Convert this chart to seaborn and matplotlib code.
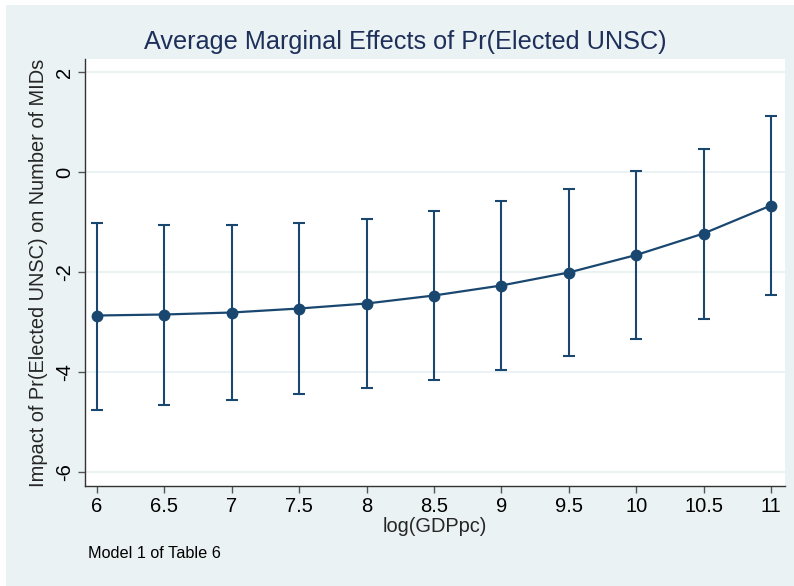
import seaborn as sns
import matplotlib.pyplot as plt
import matplotlib.patches as mpatches
import pandas as pd

# values
gdp = [6, 6.5, 7, 7.5, 8, 8.5, 9, 9.5, 10, 10.5, 11]
margin = [-2.87, -2.85, -2.81, -2.73, -2.63, -2.47, -2.27, -2.01, -1.66, -1.23, -0.67]
ci_low = [-4.75, -4.65, -4.56, -4.44, -4.31, -4.16, -3.96, -3.68, -3.34, -2.93, -2.46]
ci_high = [-1.01, -1.05, -1.05, -1.01, -0.93, -0.78, -0.58, -0.33, 0.02, 0.47, 1.13]
x_ticks = [6, 6.5, 7, 7.5, 8, 8.5, 9, 9.5, 10, 10.5, 11]
x_ticklabels = ['6', '6.5', '7', '7.5', '8', '8.5', '9', '9.5', '10', '10.5', '11']
y_ticks = [-6, -4, -2, 0, 2]

df = pd.DataFrame({'gdp': gdp, 'margin': margin, 'lo': ci_low, 'hi': ci_high})

sns.set_style('white')
plt.rcParams['font.family'] = ['Liberation Sans', 'DejaVu Sans']

navy = '#1a476f'
bg = '#eaf2f3'

fig = plt.figure(figsize=(7.94, 5.86), dpi=100, facecolor='white')
# stata-like outer graph region
fig.patches.append(mpatches.Rectangle((6 / 794, 0), 1, 1 - 5 / 586,
                                      transform=fig.transFigure, facecolor=bg,
                                      edgecolor='none', zorder=-10))

ax = fig.add_axes([85 / 794, 1 - 486 / 586, 700 / 794, 427 / 586])
ax.set_facecolor('white')

# confidence intervals
ax.errorbar(df['gdp'], df['margin'],
            yerr=[df['margin'] - df['lo'], df['hi'] - df['margin']],
            fmt='none', ecolor=navy, elinewidth=1.5, capsize=4, capthick=1.5, zorder=2)

sns.lineplot(data=df, x='gdp', y='margin', color=navy, marker='o', markersize=8.5,
             markeredgewidth=0, linewidth=1.6, ax=ax, zorder=3)

ax.set_xlim(5.911, 11.104)
ax.set_ylim(-6.28, 2.26)
ax.set_xticks(x_ticks)
ax.set_xticklabels(x_ticklabels)
ax.set_yticks(y_ticks)
ax.set_yticklabels([str(t) for t in y_ticks], rotation=90, va='center')

for t in y_ticks:
    ax.axhline(t, color=bg, linewidth=1.5, zorder=0)

for s in ['top', 'right']:
    ax.spines[s].set_visible(False)
for s in ['left', 'bottom']:
    ax.spines[s].set_color('#333333')
    ax.spines[s].set_linewidth(1.0)

ax.tick_params(axis='both', which='major', direction='out', length=5, width=1,
               color='#555555', labelsize=14.5, labelcolor='black', pad=3,
               left=True, bottom=True)

ax.set_xlabel('log(GDPpc)', fontsize=14.4, labelpad=1)
ax.set_ylabel('Impact of Pr(Elected UNSC) on Number of MIDs', fontsize=14.4, labelpad=5)

fig.text(405 / 794, 1 - 42 / 586, 'Average Marginal Effects of Pr(Elected UNSC)',
         ha='center', va='center', fontsize=18.2, color='#1e2f5a')
fig.text(88 / 794, 1 - 553 / 586, 'Model 1 of Table 6', ha='left', va='center',
         fontsize=11.7, color='black')

fig.savefig('out.png', dpi=100, facecolor=fig.get_facecolor())
plt.close(fig)
